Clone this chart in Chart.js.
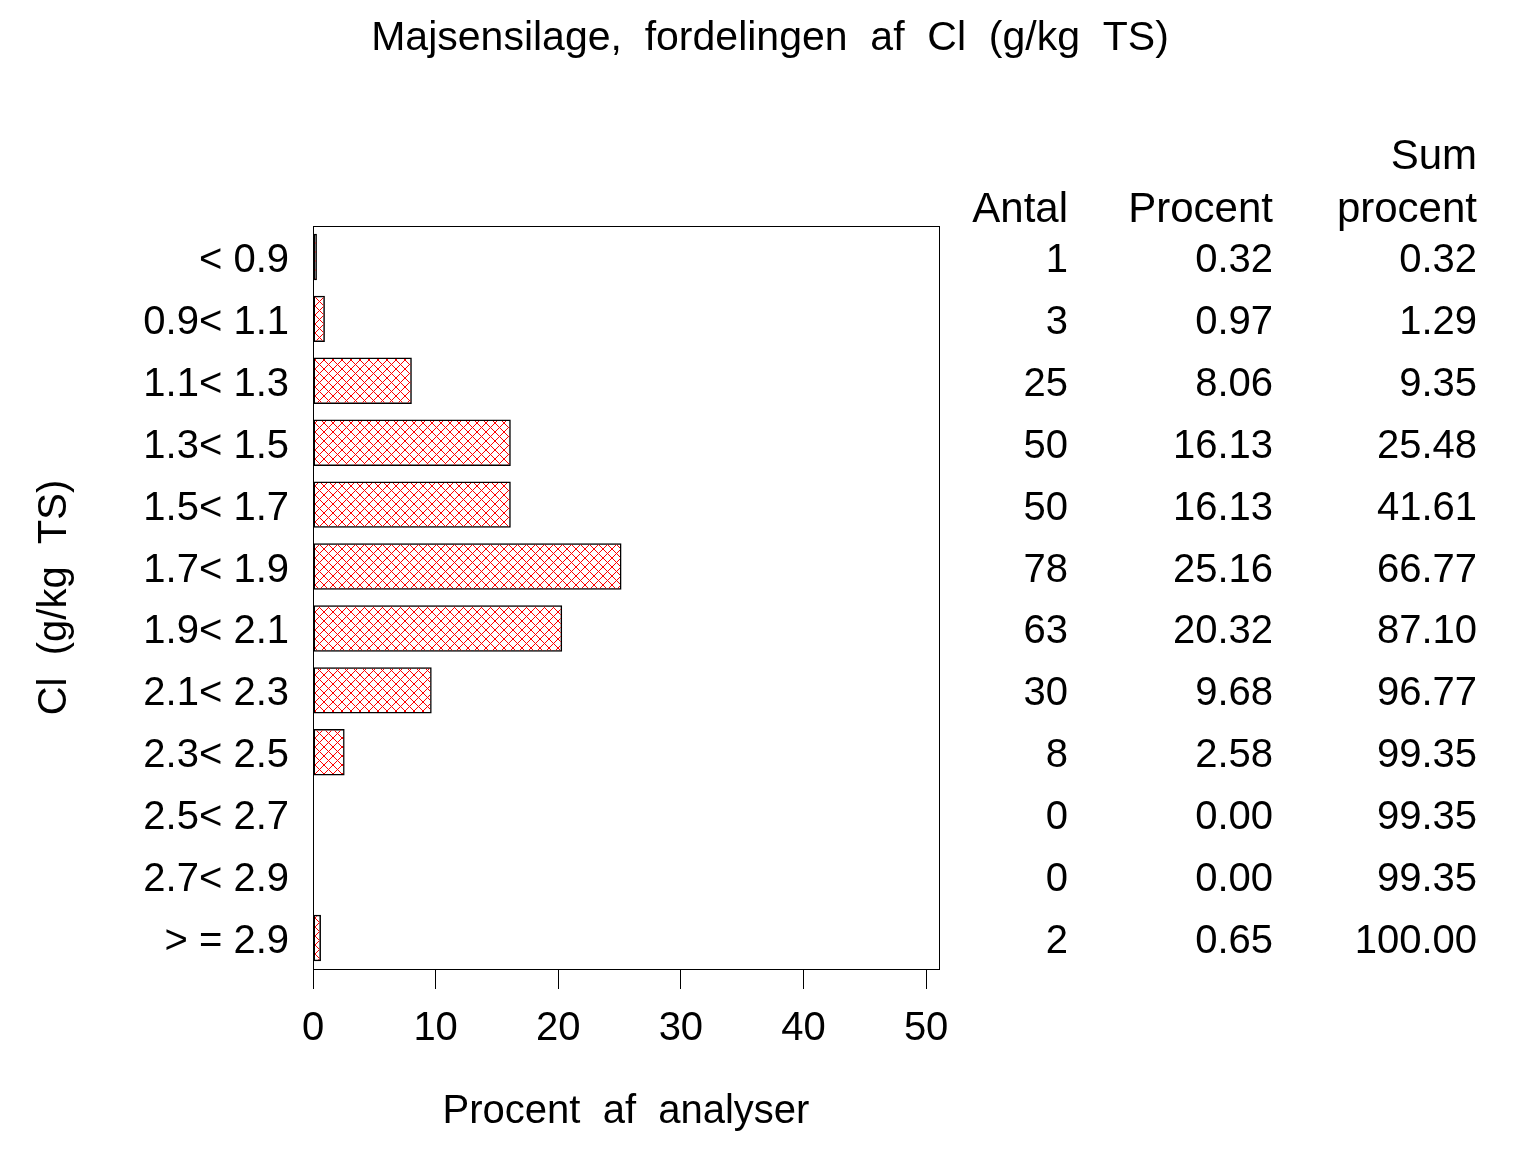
<!DOCTYPE html>
<html>
<head>
<meta charset="utf-8">
<title>Majsensilage, fordelingen af Cl</title>
<script src="https://cdn.jsdelivr.net/npm/chart.js@4/dist/chart.umd.min.js"></script>
<style>
  html, body { margin: 0; padding: 0; background: #fff; }
  canvas { display: block; }
</style>
</head>
<body>
<canvas id="chart" width="1536" height="1152"></canvas>
<script>
const plots = document.getElementById("chart");

const classes = ["< 0.9", "0.9< 1.1", "1.1< 1.3", "1.3< 1.5", "1.5< 1.7", "1.7< 1.9",
  "1.9< 2.1", "2.1< 2.3", "2.3< 2.5", "2.5< 2.7", "2.7< 2.9", "> = 2.9"]; // y-axis categories
const antal = [1, 3, 25, 50, 50, 78, 63, 30, 8, 0, 0, 2]; // number of analyses
const procent = [0.32, 0.97, 8.06, 16.13, 16.13, 25.16, 20.32, 9.68, 2.58, 0.00, 0.00, 0.65]; // bar lengths
const sumProcent = [0.32, 1.29, 9.35, 25.48, 41.61, 66.77, 87.10, 96.77, 99.35, 99.35, 99.35, 100.00];
const xTicks = [0, 10, 20, 30, 40, 50];

const FONT = "'Liberation Sans', Arial, Helvetica, sans-serif";
const TITLE = "Majsensilage,  fordelingen  af  Cl  (g/kg  TS)";

// red cross-hatch fill like the SAS pattern
function hatch() {
  const c = document.createElement("canvas");
  c.width = 9; c.height = 9;
  const g = c.getContext("2d");
  g.strokeStyle = "#ff0000";
  g.lineWidth = 1;
  g.beginPath();
  g.moveTo(0, 0); g.lineTo(9, 9);
  g.moveTo(9, 0); g.lineTo(0, 9);
  g.stroke();
  return g.createPattern(c, "repeat");
}

// title, frame round the plot + the table on the right
const extras = {
  id: "extras",
  afterDraw(chart) {
    const { ctx, chartArea: a, scales } = chart;
    ctx.save();
    ctx.strokeStyle = "#000";
    ctx.lineWidth = 1;
    ctx.strokeRect(a.left + 0.5, a.top + 0.5, a.right - a.left, a.bottom - a.top);

    ctx.fillStyle = "#000";
    ctx.textBaseline = "middle";
    ctx.textAlign = "center";
    ctx.font = "41px " + FONT;
    ctx.fillText(TITLE, chart.width / 2 + 2, 39);

    ctx.textAlign = "right";
    const cols = [1068, 1273, 1477];
    ctx.font = "42px " + FONT;
    ctx.fillText("Sum", cols[2], 157);
    ctx.fillText("Antal", cols[0], 210);
    ctx.fillText("Procent", cols[1], 210);
    ctx.fillText("procent", cols[2], 210);
    ctx.font = "40px " + FONT;
    classes.forEach((c, i) => {
      const y = scales.y.getPixelForValue(i) + 4;
      ctx.fillText(String(antal[i]), cols[0], y);
      ctx.fillText(procent[i].toFixed(2), cols[1], y);
      ctx.fillText(sumProcent[i].toFixed(2), cols[2], y);
    });
    ctx.restore();
  },
};

new Chart(plots, {
  type: "bar",
  data: {
    labels: classes,
    datasets: [
      {
        data: procent,
        backgroundColor: hatch(),
        borderColor: "#000",
        borderWidth: 1.5,
        borderSkipped: false,
        barPercentage: 0.75,
        categoryPercentage: 1,
      },
    ],
  },
  options: {
    indexAxis: "y",
    responsive: false,
    animation: false,
    events: [],
    layout: { padding: { left: 0, right: 597, top: 226, bottom: 0 } },
    plugins: {
      legend: { display: false },
      tooltip: { enabled: false },
      title: { display: false },
    },
    scales: {
      x: {
        type: "linear",
        min: 0,
        max: 51.05,
        afterBuildTicks: (s) => { s.ticks = xTicks.map((v) => ({ value: v })); },
        afterFit: (s) => { s.height = 1152 - 969; },
        ticks: {
          color: "#000",
          font: { family: FONT, size: 40 },
          padding: 16,
          maxRotation: 0,
        },
        grid: { drawOnChartArea: false, drawTicks: true, tickLength: 20, color: "#000", lineWidth: 1 },
        border: { display: true, color: "#000", width: 1 },
        title: {
          display: true,
          text: "Procent  af  analyser",
          color: "#000",
          font: { family: FONT, size: 40 },
          padding: { bottom: 16 },
        },
      },
      y: {
        type: "category",
        afterFit: (s) => { s.width = 313; },
        ticks: {
          color: "#000",
          font: { family: FONT, size: 40 },
          padding: 16,
          labelOffset: 4,
        },
        grid: { display: false },
        border: { display: true, color: "#000", width: 1 },
        title: {
          display: true,
          text: "Cl  (g/kg  TS)",
          color: "#000",
          font: { family: FONT, size: 40 },
          padding: { top: 31 },
        },
      },
    },
  },
  plugins: [extras],
});
</script>
</body>
</html>
